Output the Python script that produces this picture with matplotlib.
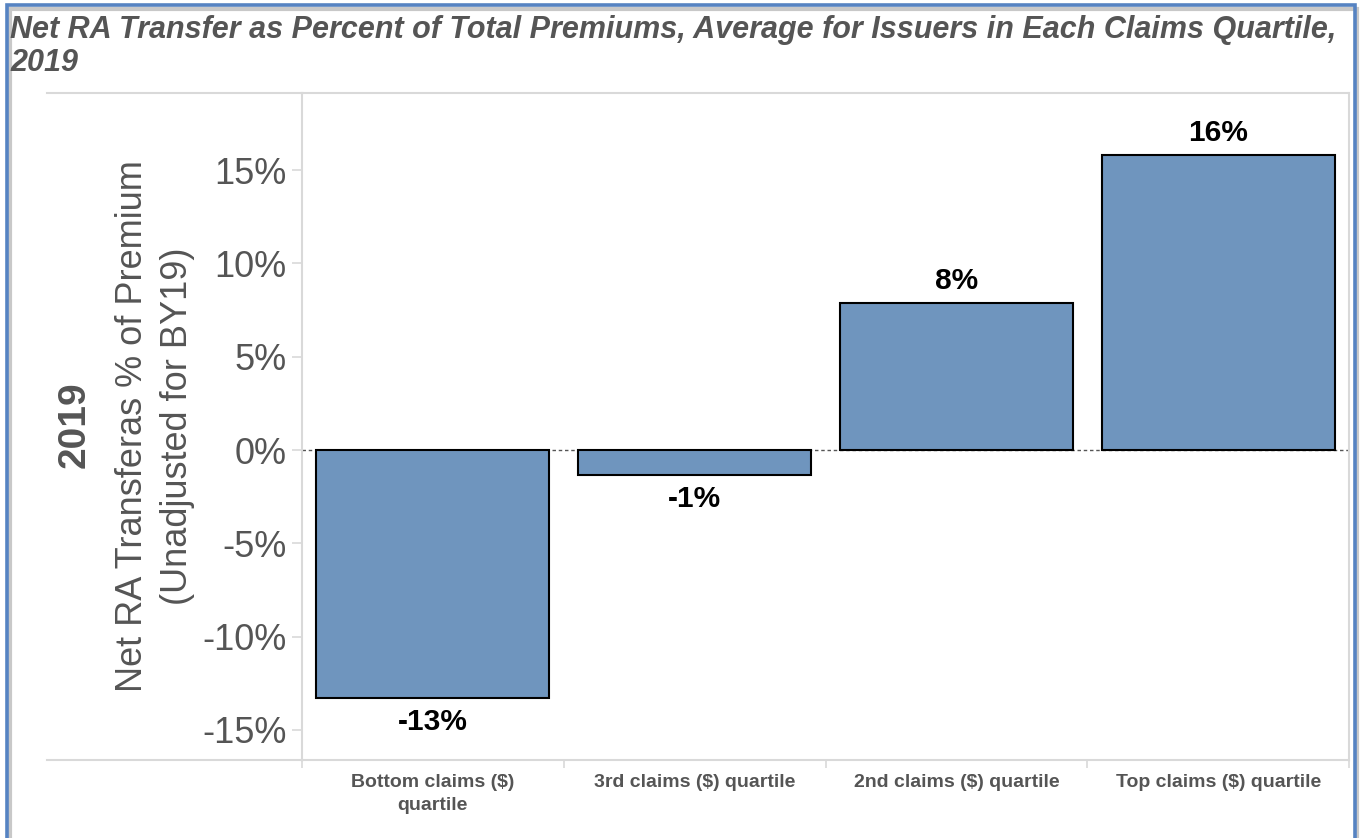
import matplotlib
matplotlib.use("Agg")
import matplotlib.pyplot as plt
from matplotlib.lines import Line2D
from matplotlib.patches import Rectangle
from matplotlib.ticker import FixedLocator

# ---- data ----
categories = ["Bottom claims ($)\nquartile", "3rd claims ($) quartile",
              "2nd claims ($) quartile", "Top claims ($) quartile"]
net_ra_pct = [-13.3, -1.35, 7.88, 15.8]
value_labels = ["-13%", "-1%", "8%", "16%"]
y_ticks = [-15, -10, -5, 0, 5, 10, 15]

# ---- style ----
BAR_COLOR = '#6F95BE'
TEXT_GRAY = '#555555'
LINE_GRAY = '#D9D9D9'
FRAME_BLUE = '#5683C2'

plt.rcParams['font.family'] = ['Liberation Sans', 'DejaVu Sans']

W, H = 1366, 838
fig = plt.figure(figsize=(W / 100, H / 100), dpi=100)
fig.patch.set_facecolor('white')


def fx(px):
    return px / W


def fy(py):
    return 1 - py / H


ax = fig.add_axes([fx(302), fy(760), fx(1349) - fx(302), fy(93) - fy(760)])
ax.set_facecolor('white')

x = list(range(len(categories)))
ax.bar(x, net_ra_pct, width=0.89, color=BAR_COLOR, edgecolor='black',
       linewidth=1.5, zorder=3)
ax.axhline(0, color=TEXT_GRAY, linestyle=(0, (2.5, 2)), linewidth=1.0, zorder=2)

for xi, v, lab in zip(x, net_ra_pct, value_labels):
    off = 16 if v >= 0 else -17
    ax.annotate(lab, (xi, v), xytext=(0, off), textcoords='offset points',
                ha='center', va='center', fontsize=21.5, fontweight='bold',
                color='black')

ax.set_xlim(-0.5, 3.5)
ax.set_ylim(-16.62, 19.14)
ax.set_yticks(y_ticks)
ax.set_yticklabels([f"{t}%" for t in y_ticks])
ax.set_xticks(x)
ax.set_xticklabels(categories, fontsize=14, fontweight='bold', color=TEXT_GRAY,
                   linespacing=1.45)
ax.xaxis.set_minor_locator(FixedLocator([-0.5, 0.5, 1.5, 2.5, 3.5]))
ax.tick_params(axis='x', which='major', length=0, pad=10)
ax.tick_params(axis='x', which='minor', length=6, color=LINE_GRAY, width=1.2)
ax.tick_params(axis='y', labelsize=26, labelcolor=TEXT_GRAY, length=7,
               color=LINE_GRAY, width=1.2, pad=4)

for s in ax.spines.values():
    s.set_color(LINE_GRAY)
    s.set_linewidth(1.5)

# header lines extending left of the pane
for py in (93, 760):
    fig.add_artist(Line2D([fx(47), fx(302)], [fy(py), fy(py)],
                          color=LINE_GRAY, linewidth=1.5))

# title
fig.text(fx(10), fy(15), "Net RA Transfer as Percent of Total Premiums, Average for "
         "Issuers in Each Claims Quartile,\n2019",
         ha='left', va='top', fontsize=22, fontweight='bold', style='italic',
         color=TEXT_GRAY, linespacing=1.15)

# y labels
fig.text(fx(75), fy(425), "2019", rotation=90, ha='center', va='center',
         fontsize=28, fontweight='bold', color=TEXT_GRAY)
fig.text(fx(155), fy(426), "Net RA Transferas % of Premium\n(Unadjusted for BY19)",
         rotation=90, ha='center', va='center', multialignment='center',
         fontsize=26, color=TEXT_GRAY, linespacing=1.4)

# outer frame with shadow
fig.add_artist(Rectangle((fx(10), fy(860)), fx(1357) - fx(10), fy(9) - fy(860),
                         transform=fig.transFigure, fill=False,
                         edgecolor='#C8C8C8', linewidth=3, zorder=0))
fig.add_artist(Rectangle((fx(7), fy(860)), fx(1355) - fx(7), fy(5) - fy(860),
                         transform=fig.transFigure, fill=False,
                         edgecolor=FRAME_BLUE, linewidth=2.6, zorder=1))

fig.savefig('out.png', dpi=100, facecolor='white')
